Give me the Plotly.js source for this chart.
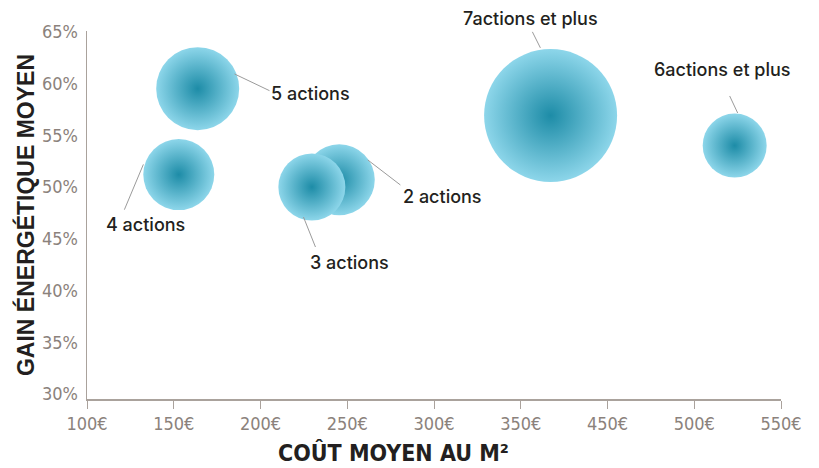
<!DOCTYPE html>
<html>
<head>
<meta charset="utf-8">
<script src="https://cdn.plot.ly/plotly-3.0.1.min.js"></script>
<style>html,body{margin:0;padding:0;background:#fff;}#chart{width:819px;height:468px;}</style>
</head>
<body>
<div id="chart"></div>
<script>
// ---- data ----
const categories = ['2 actions', '3 actions', '4 actions', '5 actions', '6actions et plus', '7actions et plus'];
const cost = [245.4, 229.6, 152.9, 163.8, 473.3, 367.2];      // coût moyen au m² (€)
const gain = [50.7, 50.0, 51.2, 59.5, 54.0, 56.9];            // gain énergétique moyen (%)
const bubbleSize = [71, 67, 71, 83, 64, 133];                 // relative bubble size
const xTickVals = [100, 150, 200, 250, 300, 350, 400, 450, 500];
const xTickText = ['100€', '150€', '200€', '250€', '300€', '350€', '450€', '500€', '550€'];
const yTickVals = [30, 35, 40, 45, 50, 55, 60, 65];
const yTickText = ['30%', '35%', '40%', '45%', '50%', '55%', '60%', '65%'];

// ---- label placement (pixel offsets from bubble centre; y downwards) ----
const labelStyle = [
  {tip: [28.5, -19.8], tail: [61.1, 5.2], text: [103.1, 16.9]},
  {tip: [-8.4, 30], tail: [3.6, 60], text: [37.5, 75]},
  {tip: [-35.4, -10.2], tail: [-54.4, 35.1], text: [-33.4, 49.8]},
  {tip: [36.8, -14.7], tail: [71.8, 2], text: [112.5, 4.5]},
  {tip: [3, -32.6], tail: [-5, -49.6], text: [-12.2, -76]},
  {tip: [-10.2, -67.7], tail: [-18.2, -83.7], text: [-20.3, -97]}
];

const tickFont = {family: '"Liberation Sans Narrow", "DejaVu Sans Condensed", "Roboto", sans-serif', size: 18, color: '#8b827c'};
const axisColor = '#aaa29c';
const labelFont = {family: 'Inter, "Noto Sans", sans-serif', size: 18, color: '#231f20', weight: 500};

const trace = {
  type: 'scatter',
  mode: 'markers',
  x: cost,
  y: gain,
  text: categories,
  hoverinfo: 'text',
  marker: {
    size: bubbleSize,
    sizemode: 'diameter',
    color: '#8dd6ea',
    opacity: 1,
    line: {width: 0},
    gradient: {type: 'radial', color: '#1d8ca7'}
  }
};

const shapes = [];
const annotations = [];
categories.forEach((name, i) => {
  const s = labelStyle[i];
  shapes.push({
    type: 'line', xref: 'x', yref: 'y',
    xsizemode: 'pixel', ysizemode: 'pixel',
    xanchor: cost[i], yanchor: gain[i],
    x0: s.tip[0], y0: -s.tip[1], x1: s.tail[0], y1: -s.tail[1],
    line: {color: '#9b9b9b', width: 1}
  });
  annotations.push({
    x: cost[i], y: gain[i], xref: 'x', yref: 'y',
    xshift: s.text[0], yshift: -s.text[1],
    text: name, showarrow: false, xanchor: 'center', yanchor: 'middle',
    font: labelFont
  });
});

annotations.push({
  xref: 'paper', yref: 'paper', x: -0.0893, y: 0.5,
  text: 'GAIN ÉNERGÉTIQUE MOYEN', textangle: -90, showarrow: false,
  xanchor: 'center', yanchor: 'middle',
  font: {family: '"Liberation Sans", Arial, sans-serif', size: 23, color: '#231f20', weight: 700}
});
annotations.push({
  xref: 'paper', yref: 'paper', x: 0.4411, y: -0.186,
  text: 'COÛT MOYEN AU M²', showarrow: false,
  xanchor: 'center', yanchor: 'bottom', borderpad: 0,
  font: {family: '"Liberation Sans Narrow", "DejaVu Sans Condensed", "Liberation Sans", sans-serif', size: 23, color: '#231f20', weight: 700}
});

const layout = {
  width: 819, height: 468,
  margin: {l: 87, r: 38, t: 31, b: 69},
  paper_bgcolor: '#ffffff', plot_bgcolor: '#ffffff',
  showlegend: false,
  xaxis: {
    range: [100, 500], tickvals: xTickVals, ticktext: xTickText,
    showline: true, linecolor: axisColor, linewidth: 1.5,
    ticks: 'outside', ticklen: 8, tickcolor: axisColor, tickwidth: 1,
    showgrid: false, zeroline: false, tickfont: tickFont
  },
  yaxis: {
    range: [29.52, 65.07], tickvals: yTickVals, ticktext: yTickText,
    showline: true, linecolor: axisColor, linewidth: 1.5,
    ticks: '', showgrid: false, zeroline: false, tickfont: tickFont,
    ticklabelstandoff: 4
  },
  shapes: shapes,
  annotations: annotations
};

Plotly.newPlot('chart', [trace], layout, {displayModeBar: false, staticPlot: true});
</script>
</body>
</html>
